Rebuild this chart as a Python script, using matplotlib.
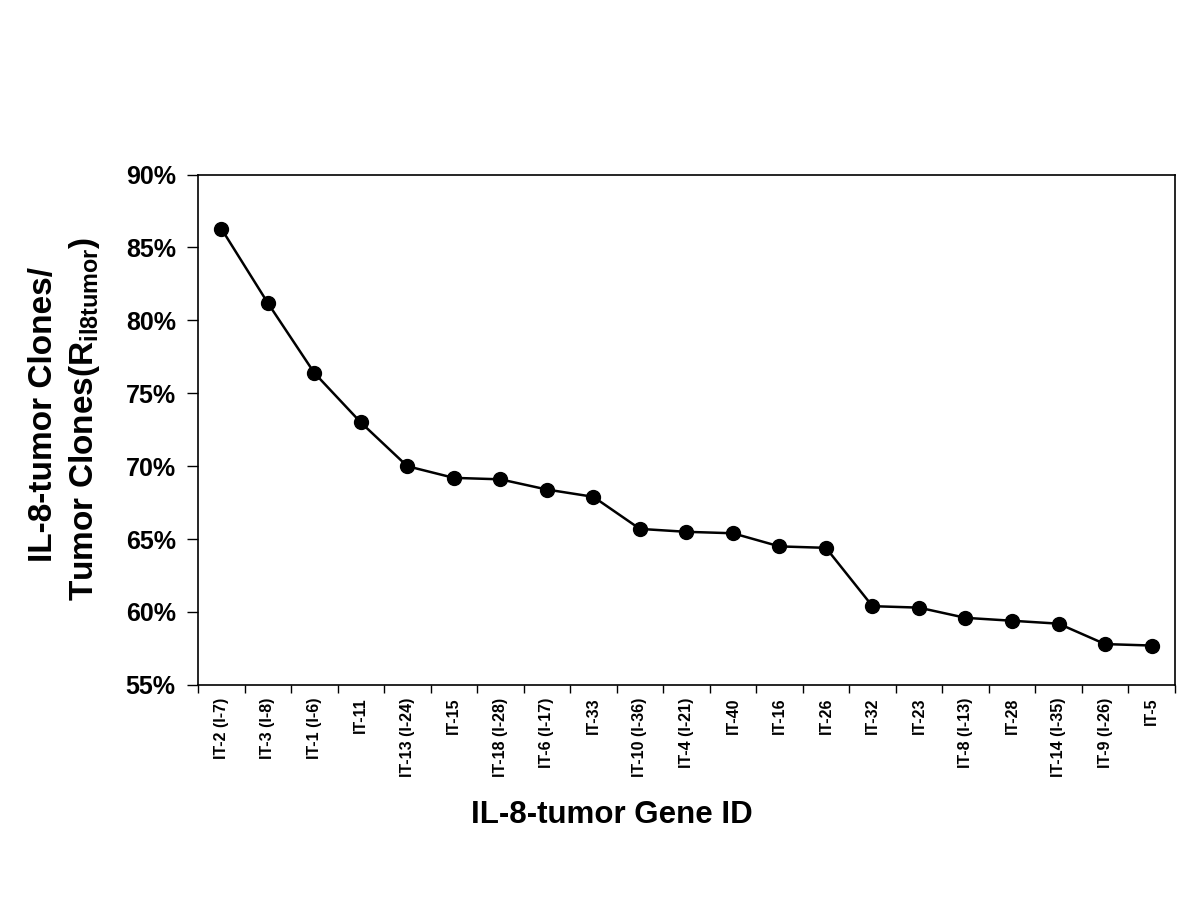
import numpy as np
import matplotlib.pyplot as plt

plt.rcParams['font.family'] = ['Liberation Sans', 'DejaVu Sans']
plt.rcParams['font.weight'] = 'bold'
plt.rcParams['mathtext.fontset'] = 'custom'
plt.rcParams['mathtext.rm'] = 'Liberation Sans:bold'
plt.rcParams['mathtext.it'] = 'Liberation Sans:bold'
plt.rcParams['mathtext.bf'] = 'Liberation Sans:bold'

genes = ['IT-2 (I-7)', 'IT-3 (I-8)', 'IT-1 (I-6)', 'IT-11', 'IT-13 (I-24)', 'IT-15',
         'IT-18 (I-28)', 'IT-6 (I-17)', 'IT-33', 'IT-10 (I-36)', 'IT-4 (I-21)', 'IT-40',
         'IT-16', 'IT-26', 'IT-32', 'IT-23', 'IT-8 (I-13)', 'IT-28', 'IT-14 (I-35)',
         'IT-9 (I-26)', 'IT-5']
ratio = [86.3, 81.2, 76.4, 73.0, 70.0, 69.2, 69.1, 68.4, 67.9, 65.7, 65.5,
         65.4, 64.5, 64.4, 60.4, 60.3, 59.6, 59.4, 59.2, 57.8, 57.7]

fig = plt.figure(figsize=(12, 9), dpi=100)
ax = fig.add_axes([0.165, 0.239, 0.814, 0.567])

x = np.arange(len(genes))
ax.plot(x, ratio, color='black', linewidth=1.8, marker='o', markersize=10)

ax.set_xlim(-0.5, len(genes) - 0.5)
ax.set_ylim(55, 90)
ax.set_yticks(np.arange(55, 91, 5))
ax.set_yticklabels(['%d%%' % v for v in range(55, 91, 5)], fontsize=18, fontweight='bold')
ax.set_xticks(x)
ax.set_xticklabels(genes, rotation=90, fontsize=11.5, fontweight='bold')
ax.set_xticks(np.arange(-0.5, len(genes)), minor=True)
ax.tick_params(axis='x', which='major', length=0, pad=9)
ax.tick_params(axis='x', which='minor', length=6, direction='out', width=1)
ax.tick_params(axis='y', length=8, direction='out', width=1, pad=8)
for s in ax.spines.values():
    s.set_linewidth(1.2)

fig.text(0.51, 0.094, 'IL-8-tumor Gene ID', fontsize=22.5, fontweight='bold', ha='center', va='center')
fig.text(0.036, 0.539, 'IL-8-tumor Clones/', fontsize=24, fontweight='bold',
         rotation=90, ha='center', va='center')
fig.text(0.070, 0.535, r'Tumor Clones(R$_{\mathrm{il8tumor}}$)', fontsize=24, fontweight='bold',
         rotation=90, ha='center', va='center')

fig.savefig('out.png', dpi=100)
